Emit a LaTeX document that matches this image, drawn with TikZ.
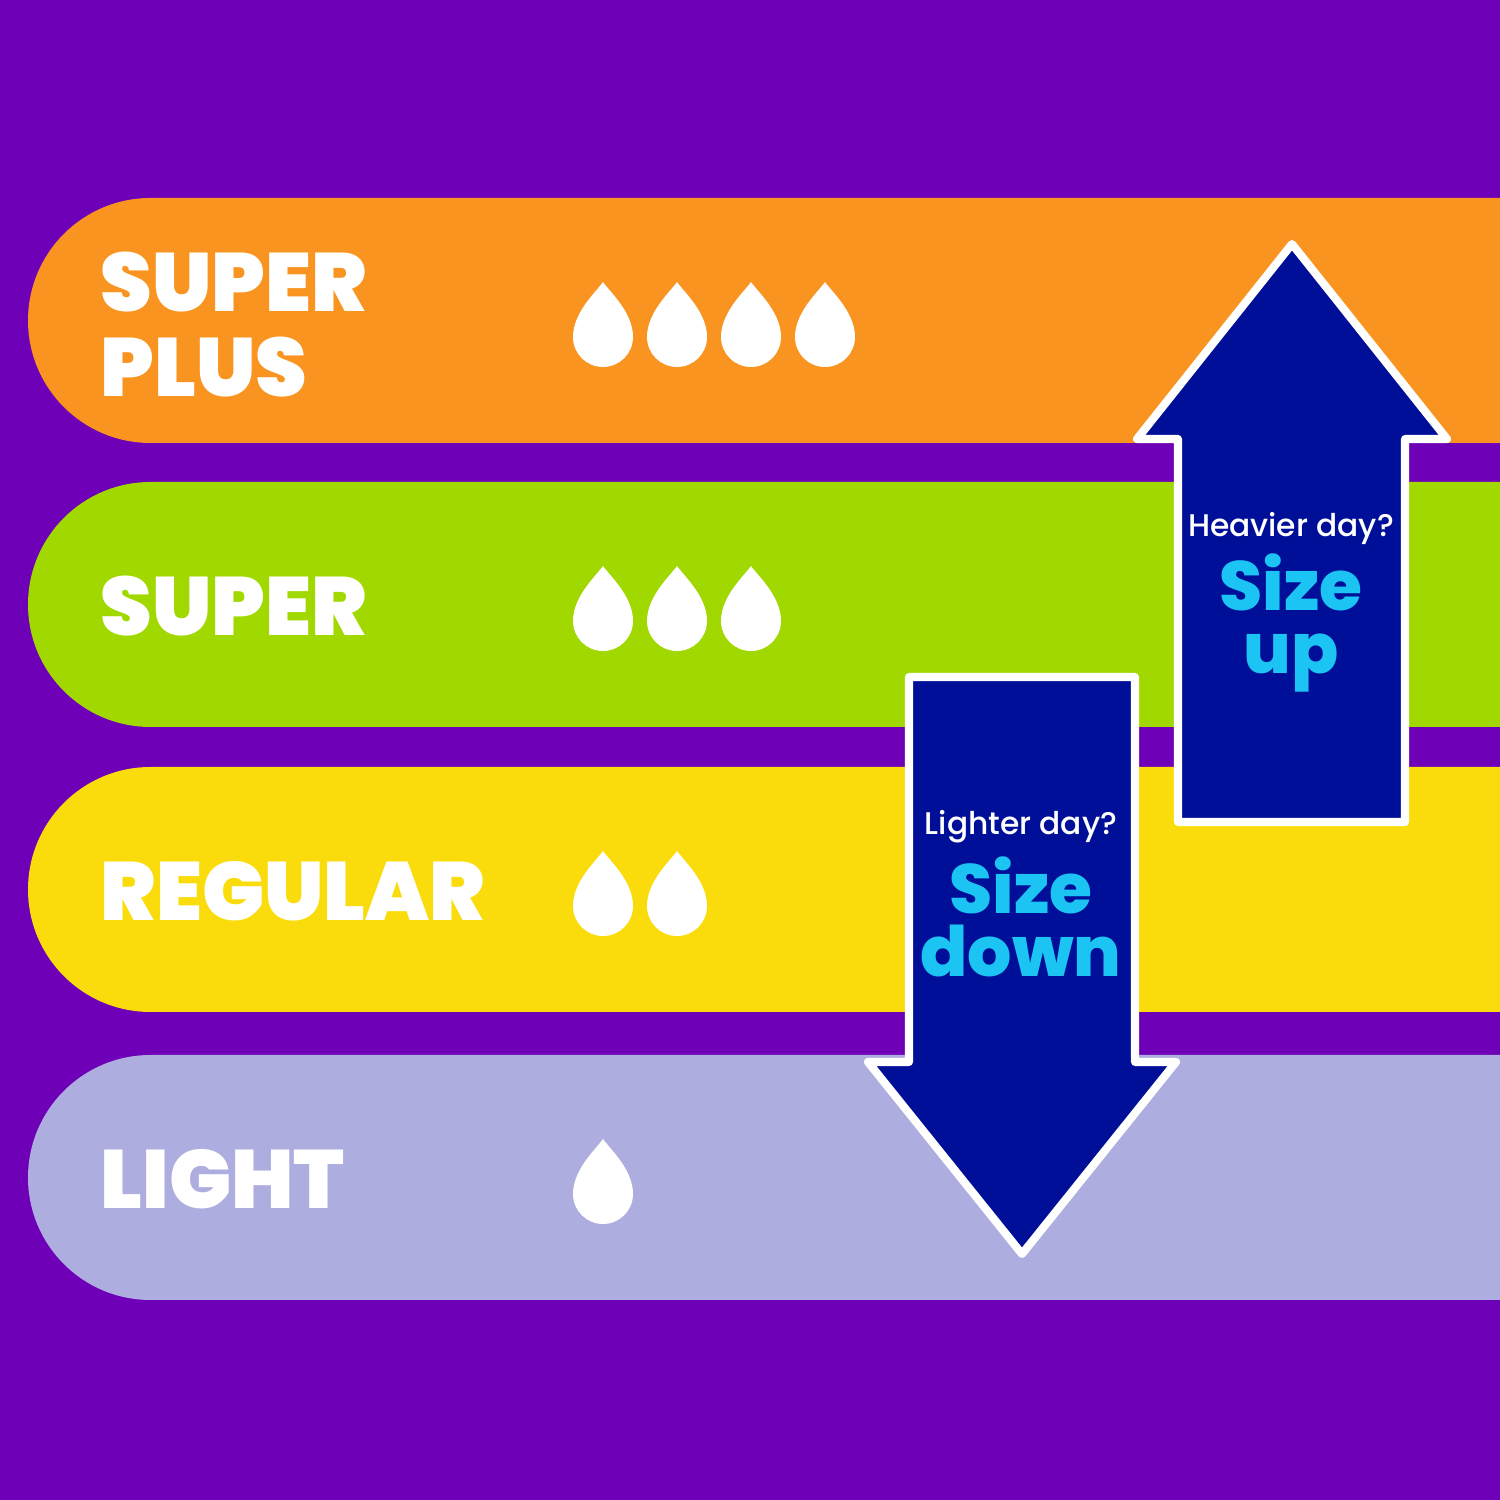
\documentclass[tikz,border=0pt]{standalone}
\usepackage{fontspec}
\setmainfont{Poppins}
\newfontfamily\heavyfont{Poppins Black}
\newfontfamily\mediumfont{Poppins Medium}
\newfontfamily\sizefont{Poppins ExtraBold}
\usepackage{tikz}

\definecolor{bgpurple}{HTML}{6E00B8}
\definecolor{bandorange}{HTML}{F8941F}
\definecolor{bandgreen}{HTML}{A0D800}
\definecolor{bandyellow}{HTML}{FADC0C}
\definecolor{bandlilac}{HTML}{ADADE0}
\definecolor{arrownavy}{HTML}{000F98}
\definecolor{sizecyan}{HTML}{1CC4F4}

\tikzset{
  bandtext/.style={text=white, inner sep=0pt, align=left,
    font=\heavyfont\fontsize{23.5}{24.2}\selectfont},
  asktext/.style={text=white, inner sep=0pt,
    font=\mediumfont\fontsize{8.9}{10}\selectfont},
  sizetext/.style={text=sizecyan, inner sep=0pt, align=center,
    font=\sizefont\fontsize{19.8}{18}\selectfont},
  arrowshape/.style={fill=arrownavy, draw=white, line width=2.3pt, line join=round},
  raindrop/.pic={
    \fill[white] (0,55) .. controls (6,46) and (30,25) .. (30,0)
      arc[start angle=0, end angle=-180, radius=30]
      .. controls (-30,25) and (-6,46) .. (0,55) -- cycle;
  }
}

\begin{document}
\begin{tikzpicture}[x=0.01cm, y=0.01cm]
  \useasboundingbox (0,0) rectangle (1500,1500);
  \fill[bgpurple] (0,0) rectangle (1500,1500);

  % bands
  \foreach \bandcol/\bandtop in {bandorange/1302, bandgreen/1018, bandyellow/733, bandlilac/445}
    \fill[\bandcol] (150.5,\bandtop) -- (1500,\bandtop) -- (1500,\bandtop-245)
      -- (150.5,\bandtop-245) arc[start angle=270, end angle=90, radius=122.5] -- cycle;

  \node[bandtext, anchor=base west] (superplus) at (100,1103) {SUPER\\PLUS};
  \node[bandtext, anchor=base west] (super) at (100,864) {SUPER};
  \node[bandtext, anchor=base west] (regular) at (100,579) {REGULAR};
  \node[bandtext, anchor=base west] (light) at (100,291) {LIGHT};

  % drops
  \foreach \row/\n in {1163/4, 879/3, 594/2, 306/1}
    \foreach \k in {1,...,\n}
      \pic at ({529+74*\k},\row) {raindrop};

  % arrows
  \filldraw[arrowshape] (1292,1256) -- (1447,1061) -- (1405,1061) -- (1405,678)
    -- (1178,678) -- (1178,1061) -- (1137,1061) -- cycle;
  \filldraw[arrowshape] (1022,246) -- (1176,438) -- (1135,438) -- (1135,823)
    -- (909,823) -- (909,438) -- (868,438) -- cycle;

  \node[asktext, anchor=base] (heavier) at (1291,963) {Heavier day?};
  \node[sizetext, anchor=base] (sizeup) at (1291,826) {Size\\up};
  \node[asktext, anchor=base] (lighter) at (1021,665) {Lighter day?};
  \node[sizetext, anchor=base] (sizedown) at (1021,523) {Size\\down};
\end{tikzpicture}
\end{document}
